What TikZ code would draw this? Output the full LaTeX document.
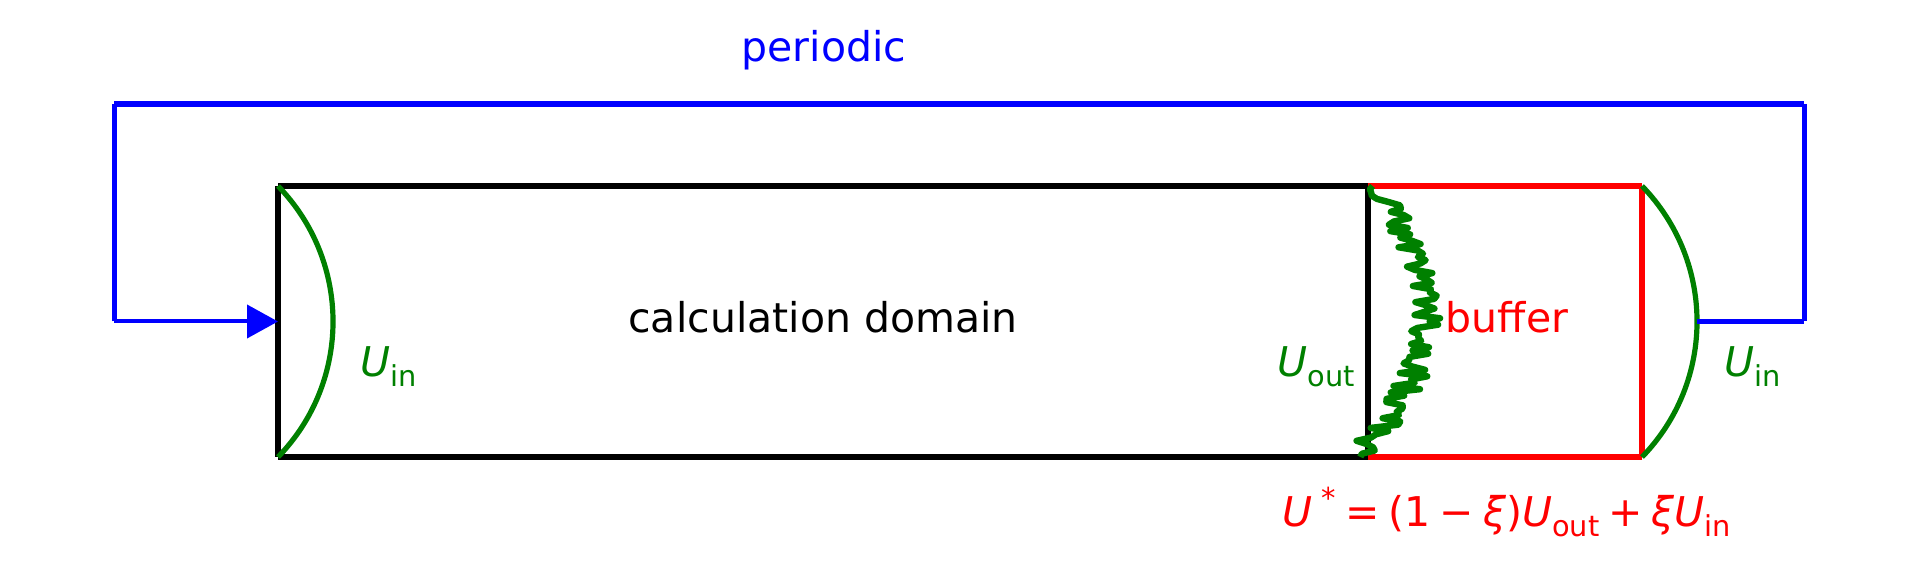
\documentclass[tikz,border=0pt]{standalone}
\usepackage{fontspec}
\setmainfont{DejaVu Sans}
\usepackage{xcolor}
\usepackage{tikz}
\usetikzlibrary{arrows.meta}

\newcommand{\lowtxt}[1]{\raisebox{-0.22em}{\fontsize{7.2}{8}\selectfont #1}}
\newcommand{\uptxt}[1]{\raisebox{0.45em}{\fontsize{7.2}{8}\selectfont #1}}
\newcommand{\gp}{\hspace{0.22em}}

\begin{document}
\begin{tikzpicture}[x=25pt,y=25pt,>=Stealth,line join=round]
  \useasboundingbox (0.000,0.000) rectangle (19.190,5.680);
  \tikzset{lbl/.style={font=\fontsize{10.25}{12}\selectfont,inner sep=0pt,anchor=base}}
  \coordinate (DL) at (2.780,1.110);
  \coordinate (DT) at (2.780,3.820);
  \coordinate (OT) at (13.680,3.820);
  \coordinate (OB) at (13.680,1.110);
  \coordinate (BT) at (16.420,3.820);
  \coordinate (BB) at (16.420,1.110);
  \coordinate (IN) at (2.780,2.465);
  \coordinate (RA) at (16.970,2.465);
  \coordinate (PL0) at (1.140,2.465);
  \coordinate (PL1) at (1.140,4.640);
  \coordinate (PR1) at (18.040,4.640);
  \coordinate (PR0) at (18.040,2.465);
  % calculation domain
  \draw[line width=1.3pt] (DL) -- (DT);
  \draw[line width=1.3pt] (DT) -- (OT);
  \draw[line width=1.3pt] (OT) -- (OB);
  \draw[line width=1.3pt] (OB) -- (DL);
  % buffer
  \draw[red,line width=1.3pt] (OT) -- (BT);
  \draw[red,line width=1.3pt] (BT) -- (BB);
  \draw[red,line width=1.3pt] (BB) -- (OB);
  % inflow profiles
  \draw[green!50!black,line width=1.3pt] (DT) arc[start angle=44.2,end angle=-44.2,radius=1.944];
  \draw[green!50!black,line width=1.3pt] (BT) arc[start angle=44.2,end angle=-44.2,radius=1.944];
  % outflow (turbulent)
  \pgfmathsetseed{11}
  \draw[green!50!black,line width=1.6pt] plot[variable=\t,domain=0:1,samples=85]
    ({13.720-0.150*\t+2.480*\t*(1-\t)+0.160*rand},{3.820-2.710*\t});
  % periodic
  \draw[blue,line width=1.6pt] (PL1) -- (PR1);
  \draw[blue,line width=1.25pt] (PL0) -- (PL1);
  \draw[blue,line width=1.25pt] (PR1) -- (PR0);
  \draw[blue,line width=1.25pt] (RA) -- (PR0);
  \draw[blue,line width=1pt,-{Triangle[length=7.75pt,width=8.25pt]}] (PL0) -- (IN);
  \node[lbl,blue] (per) at (8.240,5.060) {periodic};
  \node[lbl] (calc) at (8.230,2.350) {calculation domain};
  \node[lbl,red] (buf) at (15.070,2.350) {buffer};
  \node[lbl,green!50!black] (uin1) at (3.890,1.910) {\textit{U}\lowtxt{in}};
  \node[lbl,green!50!black] (uout) at (13.160,1.910) {\textit{U}\lowtxt{out}};
  \node[lbl,green!50!black] (uin2) at (17.530,1.910) {\textit{U}\lowtxt{in}};
  \node[lbl,red] (mix) at (15.070,0.410)
    {\textit{U}\gp\uptxt{*}\gp=\gp(1\gp−\gp\textit{ξ})\textit{U}\lowtxt{out}\gp+\gp\textit{ξU}\lowtxt{in}};
\end{tikzpicture}
\end{document}
